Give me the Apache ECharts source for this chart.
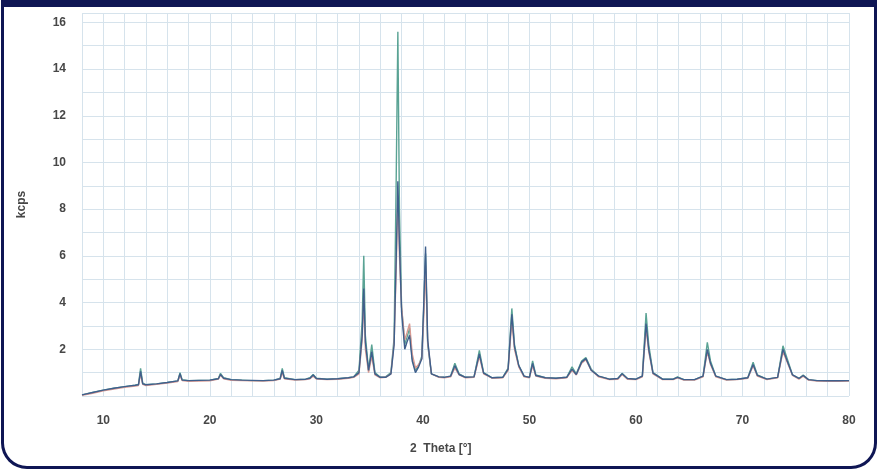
<!DOCTYPE html>
<html>
<head>
<meta charset="utf-8">
<script src="https://cdn.jsdelivr.net/npm/echarts@6/dist/echarts.min.js"></script>
<style>
html,body{margin:0;padding:0;background:#fff;width:877px;height:469px;overflow:hidden;}
#chart{position:absolute;left:0;top:0;width:877px;height:469px;}
#frame{position:absolute;left:1px;top:0;width:876px;height:469px;box-sizing:border-box;border:3px solid #0f1654;border-top:7px solid #0f1654;border-radius:0 0 26px 26px;pointer-events:none;}
</style>
</head>
<body>
<div id="chart"></div>
<div id="frame"></div>
<script>
// 2 Theta values (degrees)
const theta = [8,9,10,11,12,13,13.3,13.5,13.7,14,15,16,17,17.2,17.4,18,19,20,20.8,21,21.3,22,23,24,25,26,26.6,26.8,27.0,28,29,29.4,29.7,30,31,32,33,33.5,34.0,34.3,34.45,34.6,34.9,35.2,35.5,36,36.5,37.0,37.3,37.5,37.65,37.8,38.0,38.3,38.5,38.75,39.0,39.3,39.6,39.9,40.1,40.25,40.45,40.8,41.5,42,42.6,43.0,43.4,44,44.8,45.3,45.7,46.5,47.5,48.0,48.35,48.6,49.0,49.5,50.0,50.3,50.6,51.5,52.5,53.5,54.0,54.4,54.9,55.3,55.8,56.5,57.5,58.3,58.7,59.2,60.0,60.6,60.95,61.2,61.6,62.5,63.5,63.9,64.5,65.5,66.3,66.7,67.0,67.5,68.5,69.5,70.5,71.0,71.4,72.3,73.3,73.8,74.2,74.7,75.3,75.7,76.2,77.0,78.0,79.0,80];
// intensities (kcps)
const greenKcps = [0.05,0.15,0.25,0.33,0.40,0.46,0.50,1.18,0.55,0.48,0.52,0.58,0.65,1.0,0.7,0.66,0.67,0.68,0.75,0.97,0.78,0.7,0.68,0.66,0.66,0.68,0.75,1.18,0.78,0.7,0.72,0.78,0.92,0.76,0.72,0.74,0.78,0.82,1.1,3.2,6.0,2.6,1.1,2.2,1.0,0.8,0.82,1.0,2.5,9.5,15.6,8.0,3.8,2.2,2.5,2.9,1.6,1.1,1.3,1.7,4.0,6.1,2.2,0.95,0.82,0.8,0.85,1.4,0.95,0.8,0.82,1.95,1.0,0.78,0.8,1.2,3.75,2.2,1.3,0.85,0.8,1.5,0.9,0.78,0.76,0.8,1.25,0.95,1.5,1.65,1.15,0.85,0.72,0.75,0.97,0.75,0.72,0.85,3.55,2.2,1.0,0.72,0.72,0.82,0.7,0.7,0.85,2.3,1.5,0.85,0.7,0.72,0.78,1.45,0.9,0.72,0.8,2.15,1.6,0.9,0.75,0.9,0.7,0.66,0.65,0.65,0.66];
const redKcps = [0.03,0.12,0.22,0.30,0.37,0.43,0.45,0.95,0.50,0.45,0.50,0.55,0.62,0.9,0.66,0.63,0.64,0.65,0.72,0.9,0.74,0.67,0.66,0.65,0.64,0.66,0.72,1.0,0.74,0.68,0.7,0.74,0.85,0.73,0.7,0.72,0.76,0.8,0.95,2.4,4.2,2.0,1.0,1.7,0.9,0.78,0.8,0.95,2.3,5.5,8.6,6.0,3.8,2.4,2.7,3.1,1.8,1.2,1.35,1.6,3.6,5.6,2.3,0.95,0.8,0.78,0.82,1.2,0.9,0.78,0.8,1.7,0.95,0.76,0.78,1.1,3.2,2.0,1.25,0.82,0.78,1.3,0.85,0.76,0.74,0.78,1.1,0.9,1.4,1.55,1.1,0.82,0.7,0.72,0.92,0.72,0.7,0.82,2.9,1.9,0.95,0.7,0.7,0.78,0.68,0.68,0.82,1.9,1.35,0.82,0.68,0.7,0.76,1.3,0.85,0.7,0.78,1.9,1.45,0.88,0.72,0.85,0.68,0.64,0.63,0.63,0.64];
const blueKcps = [0.05,0.15,0.25,0.33,0.40,0.46,0.48,1.05,0.52,0.48,0.52,0.58,0.65,0.95,0.68,0.66,0.67,0.68,0.74,0.92,0.76,0.7,0.68,0.67,0.66,0.68,0.74,1.1,0.76,0.7,0.72,0.76,0.9,0.75,0.72,0.74,0.78,0.82,1.0,2.6,4.6,2.3,1.1,1.9,0.95,0.8,0.8,0.95,2.2,6.0,9.2,6.5,3.6,2.0,2.3,2.6,1.5,1.0,1.25,1.6,4.2,6.4,2.4,0.95,0.82,0.8,0.85,1.3,0.92,0.8,0.82,1.8,0.98,0.78,0.8,1.15,3.5,2.1,1.3,0.85,0.8,1.4,0.88,0.78,0.76,0.8,1.15,0.92,1.45,1.6,1.1,0.85,0.72,0.75,0.95,0.75,0.72,0.85,3.1,2.0,0.98,0.72,0.72,0.8,0.7,0.7,0.85,2.0,1.4,0.85,0.7,0.72,0.78,1.35,0.88,0.72,0.8,2.0,1.5,0.9,0.75,0.88,0.7,0.66,0.65,0.65,0.66];
const xTickLabels = [10,20,30,40,50,60,70,80];
const yTickLabels = [2,4,6,8,10,12,14,16];

function pairs(vals){ return theta.map((t,i)=>[t, vals[i]]); }

const chart = echarts.init(document.getElementById('chart'), null, {renderer:'canvas'});
const gridColor = '#d6e3ec';
const labelStyle = {color:'#474747', fontSize:12, fontWeight:'bold', fontFamily:'Liberation Sans, Arial, sans-serif'};
chart.setOption({
  backgroundColor:'transparent',
  animation:false,
  grid:{left:82, right:28, top:13, bottom:73, containLabel:false},
  xAxis:{
    type:'value', min:8, max:80, interval:2,
    axisLine:{show:false}, axisTick:{show:false},
    axisLabel:Object.assign({margin:19, formatter:v=> xTickLabels.indexOf(v)>=0 ? String(v) : ''}, labelStyle),
    splitLine:{show:true, lineStyle:{color:gridColor, width:1}}
  },
  yAxis:{
    type:'value', min:0, max:16.4, interval:1,
    name:'kcps', nameLocation:'middle', nameGap:54,
    nameTextStyle:Object.assign({}, labelStyle),
    axisLine:{show:false}, axisTick:{show:false},
    axisLabel:Object.assign({margin:16, formatter:v=> yTickLabels.indexOf(v)>=0 ? String(v) : ''}, labelStyle),
    splitLine:{show:true, lineStyle:{color:gridColor, width:1}}
  },
  graphic:[{type:'text', left:410, top:443, style:{text:'2  Theta [°]', fill:'#474747', font:'bold 12px "Liberation Sans", Arial, sans-serif'}}],
  series:[
    {type:'line', data:pairs(greenKcps), symbol:'none', lineStyle:{color:'#5aa394', width:1.4}},
    {type:'line', data:pairs(redKcps), symbol:'none', lineStyle:{color:'#d99a92', width:1.4}},
    {type:'line', data:pairs(blueKcps), symbol:'none', lineStyle:{color:'#3f5f8c', width:1.4}}
  ]
});
</script>
</body>
</html>
